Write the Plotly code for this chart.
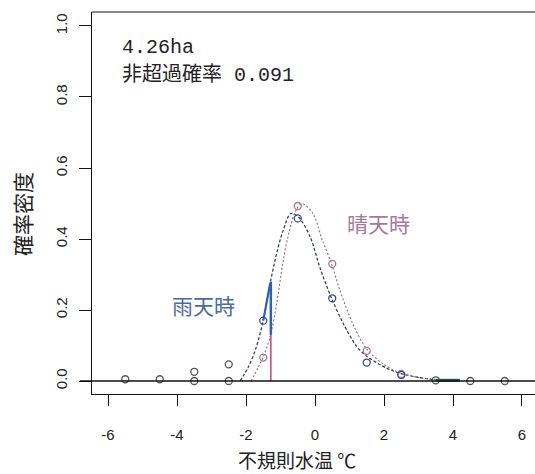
import plotly.graph_objects as go

# Fitted density curves (rain / fine weather), read at selected temperatures
rain_curve_x = [-2.17, -1.93, -1.72, -1.5, -1.3, -1.11, -0.92, -0.7, -0.48, -0.14, 0.14, 0.48, 0.82, 1.21, 1.5, 2.08, 2.46, 3.0, 3.5]
rain_curve_y = [0.0, 0.04, 0.09, 0.17, 0.275, 0.36, 0.425, 0.472, 0.462, 0.406, 0.32, 0.233, 0.162, 0.097, 0.07, 0.036, 0.022, 0.01, 0.003]

sunny_curve_x = [-1.85, -1.64, -1.5, -1.3, -1.11, -0.92, -0.75, -0.58, -0.38, -0.05, 0.2, 0.48, 0.72, 1.11, 1.5, 1.98, 2.46, 3.0, 3.5]
sunny_curve_y = [0.0, 0.04, 0.068, 0.125, 0.219, 0.34, 0.42, 0.475, 0.5, 0.47, 0.4, 0.33, 0.256, 0.158, 0.09, 0.048, 0.023, 0.01, 0.004]

# Observed relative frequencies
rain_obs_x = [-1.5, -0.5, 0.5, 1.5, 2.5]
rain_obs_y = [0.17, 0.458, 0.233, 0.052, 0.017]
sunny_obs_x = [-1.5, -0.5, 0.5, 1.5, 2.5]
sunny_obs_y = [0.066, 0.493, 0.33, 0.085, 0.02]
other_obs_x = [-5.5, -4.5, -3.5, -3.5, -2.5, -2.5, 3.5, 4.5, 5.5]
other_obs_y = [0.005, 0.005, 0.026, 0.0, 0.047, 0.0, 0.002, 0.0, 0.0]

# Threshold and highlighted pieces
threshold_x = -1.28
threshold_sunny_y = 0.13
threshold_rain_y = 0.28
rain_seg_x = [-1.5, -1.3]
rain_seg_y = [0.17, 0.275]
tail_seg_x = [3.5, 4.2]
tail_seg_y = [0.002, 0.002]

x_ticks = [-6, -4, -2, 0, 2, 4, 6]
y_ticks = [0.0, 0.2, 0.4, 0.6, 0.8, 1.0]

RAIN = "#2f4f86"
SUNNY = "#b0708f"
RAIN_LINE = "#2a3558"
SUNNY_LINE = "#857080"

fig = go.Figure()

fig.add_trace(go.Scatter(x=rain_curve_x, y=rain_curve_y, mode="lines",
                         line=dict(color=RAIN_LINE, width=1.2, dash="3px,2px", shape="spline", smoothing=0.9)))
fig.add_trace(go.Scatter(x=sunny_curve_x, y=sunny_curve_y, mode="lines",
                         line=dict(color=SUNNY_LINE, width=1.1, dash="2px,2px", shape="spline", smoothing=0.9)))

# threshold line: pink below the fine-weather curve, blue up to the rain curve
fig.add_trace(go.Scatter(x=[threshold_x, threshold_x], y=[0, threshold_sunny_y], mode="lines",
                         line=dict(color="#c8407a", width=1.5)))
fig.add_trace(go.Scatter(x=[threshold_x, threshold_x], y=[threshold_sunny_y, threshold_rain_y], mode="lines",
                         line=dict(color="#2e62b0", width=2.5)))
fig.add_trace(go.Scatter(x=rain_seg_x, y=rain_seg_y, mode="lines",
                         line=dict(color="#2e62b0", width=2.2)))
fig.add_trace(go.Scatter(x=tail_seg_x, y=tail_seg_y, mode="lines",
                         line=dict(color="#1d5a5a", width=3)))

marker_base = dict(symbol="circle-open", size=7, line=dict(width=1.3))
fig.add_trace(go.Scatter(x=other_obs_x, y=other_obs_y, mode="markers",
                         marker=dict(marker_base, color="#555555")))
fig.add_trace(go.Scatter(x=sunny_obs_x, y=sunny_obs_y, mode="markers",
                         marker=dict(marker_base, color=SUNNY)))
fig.add_trace(go.Scatter(x=rain_obs_x, y=rain_obs_y, mode="markers",
                         marker=dict(marker_base, color=RAIN)))

W, H = 535, 474
L, R, T, B = 92, 0, 12, 80


def px_to_paper(px, py):
    return (px - L) / (W - L - R), 1 - (py - T) / (H - T - B)


layout_ann = []


def add_label(text, px, py, size, color, angle=0, family="Noto Sans CJK JP", anchor="center"):
    xp, yp = px_to_paper(px, py)
    layout_ann.append(dict(text=text, x=xp, y=yp, xref="paper", yref="paper", showarrow=False,
                           xanchor=anchor, yanchor="middle", textangle=angle,
                           font=dict(size=size, family=family, color=color)))


add_label("4.26ha", 120, 48, 20, "#222", family="Liberation Mono, Noto Sans CJK JP", anchor="left")
add_label("非超過確率 0.091", 120, 75, 20, "#222", family="Liberation Mono, Noto Sans CJK JP", anchor="left")
add_label("晴天時", 378, 223, 21, "#a8789a")
add_label("雨天時", 203, 305, 21, "#4a6aa0")
add_label("不規則水温 ℃", 297, 459, 19, "#222")
add_label("確率密度", 22, 214, 21, "#222", angle=-90)

fig.update_layout(
    width=W, height=H,
    margin=dict(l=L, r=R, t=T, b=B),
    paper_bgcolor="white", plot_bgcolor="white",
    showlegend=False,
    annotations=layout_ann,
    shapes=[
        dict(type="line", xref="paper", yref="y", x0=-0.027, x1=1, y0=0, y1=0,
             line=dict(color="#111", width=1.3)),
        dict(type="line", xref="paper", yref="paper", x0=0, x1=1, y0=1, y1=1,
             line=dict(color="#111", width=1.2)),
    ],
)

fig.update_xaxes(range=[-6.464, 6.377], tickvals=x_ticks, ticktext=[str(v) for v in x_ticks],
                 showgrid=False, zeroline=False, showline=True, linecolor="#111", linewidth=1.2,
                 ticks="outside", ticklen=11, tickwidth=1.2, tickcolor="#111",
                 ticklabelstandoff=16,
                 tickfont=dict(family="Liberation Sans", size=15, color="#222"))
fig.update_yaxes(range=[-0.0366, 1.0394], tickvals=y_ticks, ticktext=[f"{v:.1f}" for v in y_ticks],
                 showgrid=False, zeroline=False, showline=True, linecolor="#111", linewidth=1.2,
                 ticks="outside", ticklen=12, tickwidth=1.2, tickcolor="#111",
                 tickangle=-90, ticklabelstandoff=6,
                 tickfont=dict(family="Liberation Sans", size=15, color="#222"))

fig.write_html("out.html")
